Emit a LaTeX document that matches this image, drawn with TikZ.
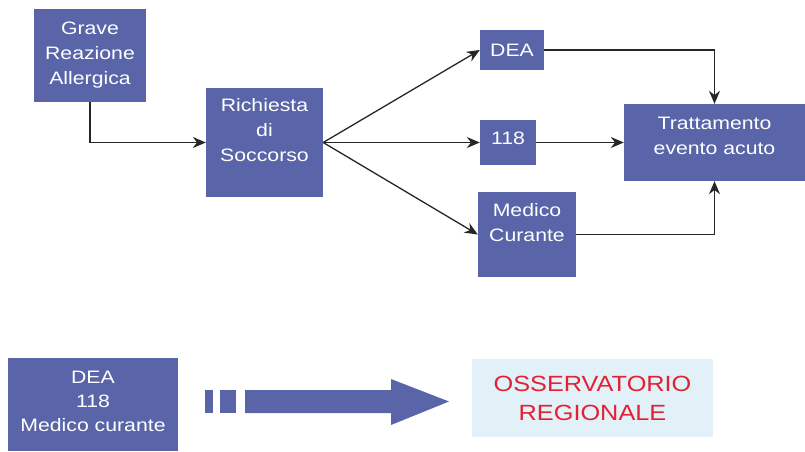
\documentclass[tikz,border=0pt]{standalone}
\usepackage{fontspec}
\usetikzlibrary{arrows.meta}
\newfontfamily\boxfont{Liberation Sans}[FakeStretch=1.18]
\newfontfamily\obsfont{Liberation Sans}[FakeStretch=1.15]
\definecolor{boxblue}{RGB}{89,101,168}
\definecolor{obsblue}{RGB}{226,240,247}
\definecolor{obsred}{RGB}{228,32,52}
\tikzset{
  box/.style={fill=boxblue, text=white, align=center, inner sep=0pt,
    font=\boxfont\fontsize{18}{25}\selectfont},
  link/.style={->, line width=1.3pt, draw=black!85}
}
\begin{document}
\begin{tikzpicture}[x=1pt, y=-1pt, >={Stealth[length=13pt,width=11pt]}]
    \useasboundingbox (0,0) rectangle (805,451);

    \node[box, minimum width=112pt, minimum height=93pt] (grave) at (90,55.5) {Grave\\Reazione\\Allergica};
    \node[box, minimum width=117pt, minimum height=109pt] (richiesta) at (264.5,142.5) {Richiesta\\di\\Soccorso\\\mbox{}};
    \node[box, minimum width=64pt, minimum height=40pt] (dea) at (512,50) {DEA};
    \node[box, minimum width=56pt, minimum height=45pt] (n118) at (508,142.5) {118\\[-16pt]\mbox{}};
    \node[box, minimum width=98pt, minimum height=85pt] (medico) at (527,234.5) {Medico\\Curante\\\mbox{}};
    \node[box, minimum width=181pt, minimum height=77pt] (tratt) at (714.5,142.5) {Trattamento\\evento acuto\\[-12pt]\mbox{}};

    \draw[link] (grave.south) |- (richiesta.west);
    \draw[link] (richiesta.east) -- (dea.west);
    \draw[link] (richiesta.east) -- (n118.west);
    \draw[link] (richiesta.east) -- (medico.west);
    \draw[link] (dea.east) -| (tratt.north);
    \draw[link] (n118.east) -- (tratt.west);
    \draw[link] (medico.east) -| (tratt.south);

    \node[box, minimum width=170pt, minimum height=93pt, font=\boxfont\fontsize{18}{24}\selectfont] (sources) at (93,404.5) {DEA\\118\\Medico curante\\[-18pt]\mbox{}};

    \fill[boxblue] (205,390) rectangle (213,413);
    \fill[boxblue] (220,390) rectangle (236,413);
    \fill[boxblue] (245,390) -- (391,390) -- (391,379) -- (449,401.5) -- (391,425) -- (391,413) -- (245,413) -- cycle;

    \node[fill=obsblue, text=obsred, align=center, inner sep=0pt, minimum width=241pt, minimum height=78pt,
      font=\obsfont\fontsize{22}{29}\selectfont] (osserv) at (592.5,398) {OSSERVATORIO\\REGIONALE};
\end{tikzpicture}
\end{document}
